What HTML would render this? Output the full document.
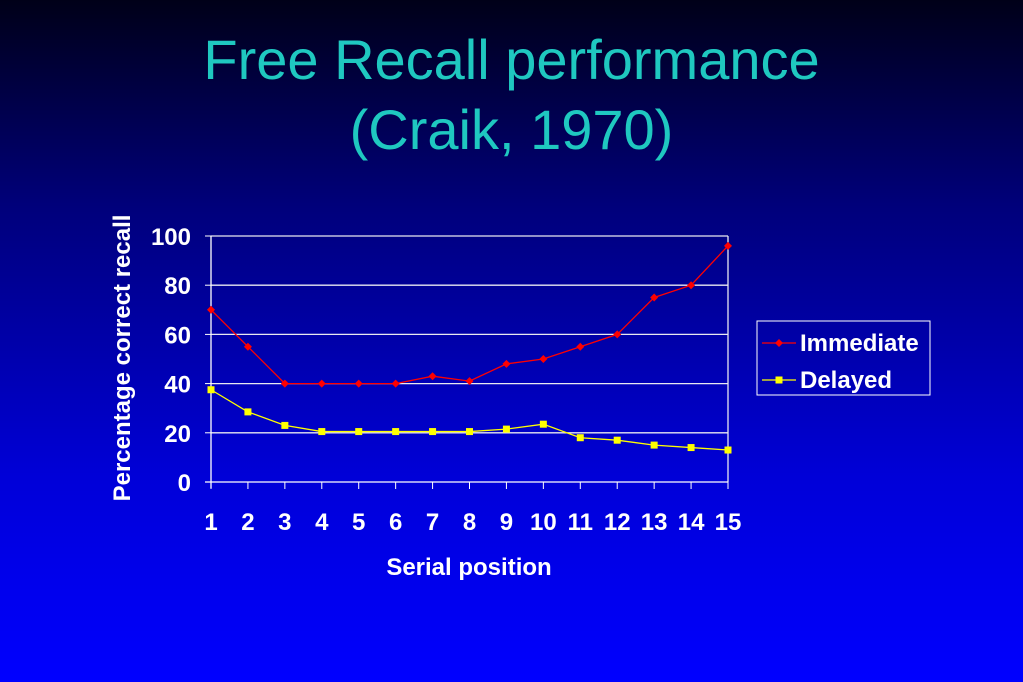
<!DOCTYPE html>
<html><head><meta charset="utf-8"><style>
html,body{margin:0;padding:0}
body{width:1023px;height:682px;overflow:hidden;background:linear-gradient(#000018 0%,#00007a 30%,#0000d8 70%,#0000ff 100%);font-family:"Liberation Sans",sans-serif}
.t{position:absolute;left:0;width:1023px;text-align:center;color:#1fc8c0;font-size:56px;line-height:70px}
</style></head><body>
<div class="t" style="top:25px">Free Recall performance<br>(Craik, 1970)</div>
<svg id="c" width="1023" height="682" style="position:absolute;left:0;top:0"></svg>
<script>
const categories=[1,2,3,4,5,6,7,8,9,10,11,12,13,14,15];
const immediate=[70,55,40,40,40,40,43,41,48,50,55,60,75,80,96];
const delayed=[37.5,28.5,23,20.5,20.5,20.5,20.5,20.5,21.5,23.5,18,17,15,14,13];
const yTicks=[0,20,40,60,80,100];
const NS="http://www.w3.org/2000/svg";
const svg=document.getElementById('c');
const x0=211,x1=728,yb=482,yt=236;
const FS=24;
const X=i=>x0+(x1-x0)*i/(categories.length-1);
const Y=v=>yb-(yb-yt)*v/100;
function mk(t,a,p){const e=document.createElementNS(NS,t);for(const k in a)e.setAttribute(k,a[k]);(p||svg).appendChild(e);return e;}
yTicks.forEach(v=>{
 if(v>0){const g=mk('line',{x1:x0,x2:x1,y1:Y(v),y2:Y(v),stroke:'#e8e8f0','stroke-width':1.3});
 
 }
 const tk=mk('line',{x1:x0-6,x2:x0,y1:Y(v),y2:Y(v),stroke:'#fff'});
 
 
 const t=mk('text',{x:x0-20,y:Y(v)+9,'text-anchor':'end',fill:'#fff','font-size':FS,'font-weight':'bold'});t.textContent=v;
 
 
});
const ax=mk('line',{x1:x0,x2:x0,y1:yt,y2:yb+6,stroke:'#fff','stroke-width':1.3});


const rx=mk('line',{x1:x1,x2:x1,y1:yt,y2:yb,stroke:'#e8e8f0','stroke-width':1.3});


const bx=mk('line',{x1:x0-6,x2:x1,y1:yb,y2:yb,stroke:'#fff','stroke-width':1.3});


categories.forEach((c,i)=>{
 const tk=mk('line',{x1:X(i),x2:X(i),y1:yb,y2:yb+7,stroke:'#fff'});
 
 
 const t=mk('text',{x:X(i),y:530,'text-anchor':'middle',fill:'#fff','font-size':FS,'font-weight':'bold'});t.textContent=c;
 
 
});
function series(vals,color,name,sq){
 const l=mk('polyline',{points:vals.map((v,i)=>X(i)+','+Y(v)).join(' '),fill:'none',stroke:color,'stroke-width':1.3});
 
 
 vals.forEach((v,i)=>{
  let m;
  if(sq)m=mk('rect',{x:X(i)-3.5,y:Y(v)-3.5,width:7,height:7,fill:color});
  else m=mk('polygon',{points:`${X(i)},${Y(v)-4} ${X(i)+4},${Y(v)} ${X(i)},${Y(v)+4} ${X(i)-4},${Y(v)}`,fill:color});
  
  
 });
}
series(delayed,'#ffff00','delayed',true);
series(immediate,'#ff0000','immediate',false);
const lg=mk('rect',{x:757,y:321,width:173,height:74,fill:'none',stroke:'#fff','stroke-width':1});


[['Immediate','#ff0000',343,false],['Delayed','#ffff00',380,true]].forEach(([n,c,y,sq])=>{
 const l=mk('line',{x1:762,x2:796,y1:y,y2:y,stroke:c,'stroke-width':1.3});
 
 
 const m=sq?mk('rect',{x:775.5,y:y-3.5,width:7,height:7,fill:c}):mk('polygon',{points:`779,${y-4} 783,${y} 779,${y+4} 775,${y}`,fill:c});
 
 
 const t=mk('text',{x:800,y:y+8,fill:'#fff','font-size':FS,'font-weight':'bold'});t.textContent=n;
 
 
});
const xt=mk('text',{x:469,y:575,'text-anchor':'middle',fill:'#fff','font-size':FS,'font-weight':'bold'});xt.textContent='Serial position';


const yt2=mk('text',{x:0,y:0,'text-anchor':'middle',fill:'#fff','font-size':FS,'font-weight':'bold',transform:'translate(130,358) rotate(-90)'});yt2.textContent='Percentage correct recall';


</script>
</body></html>
